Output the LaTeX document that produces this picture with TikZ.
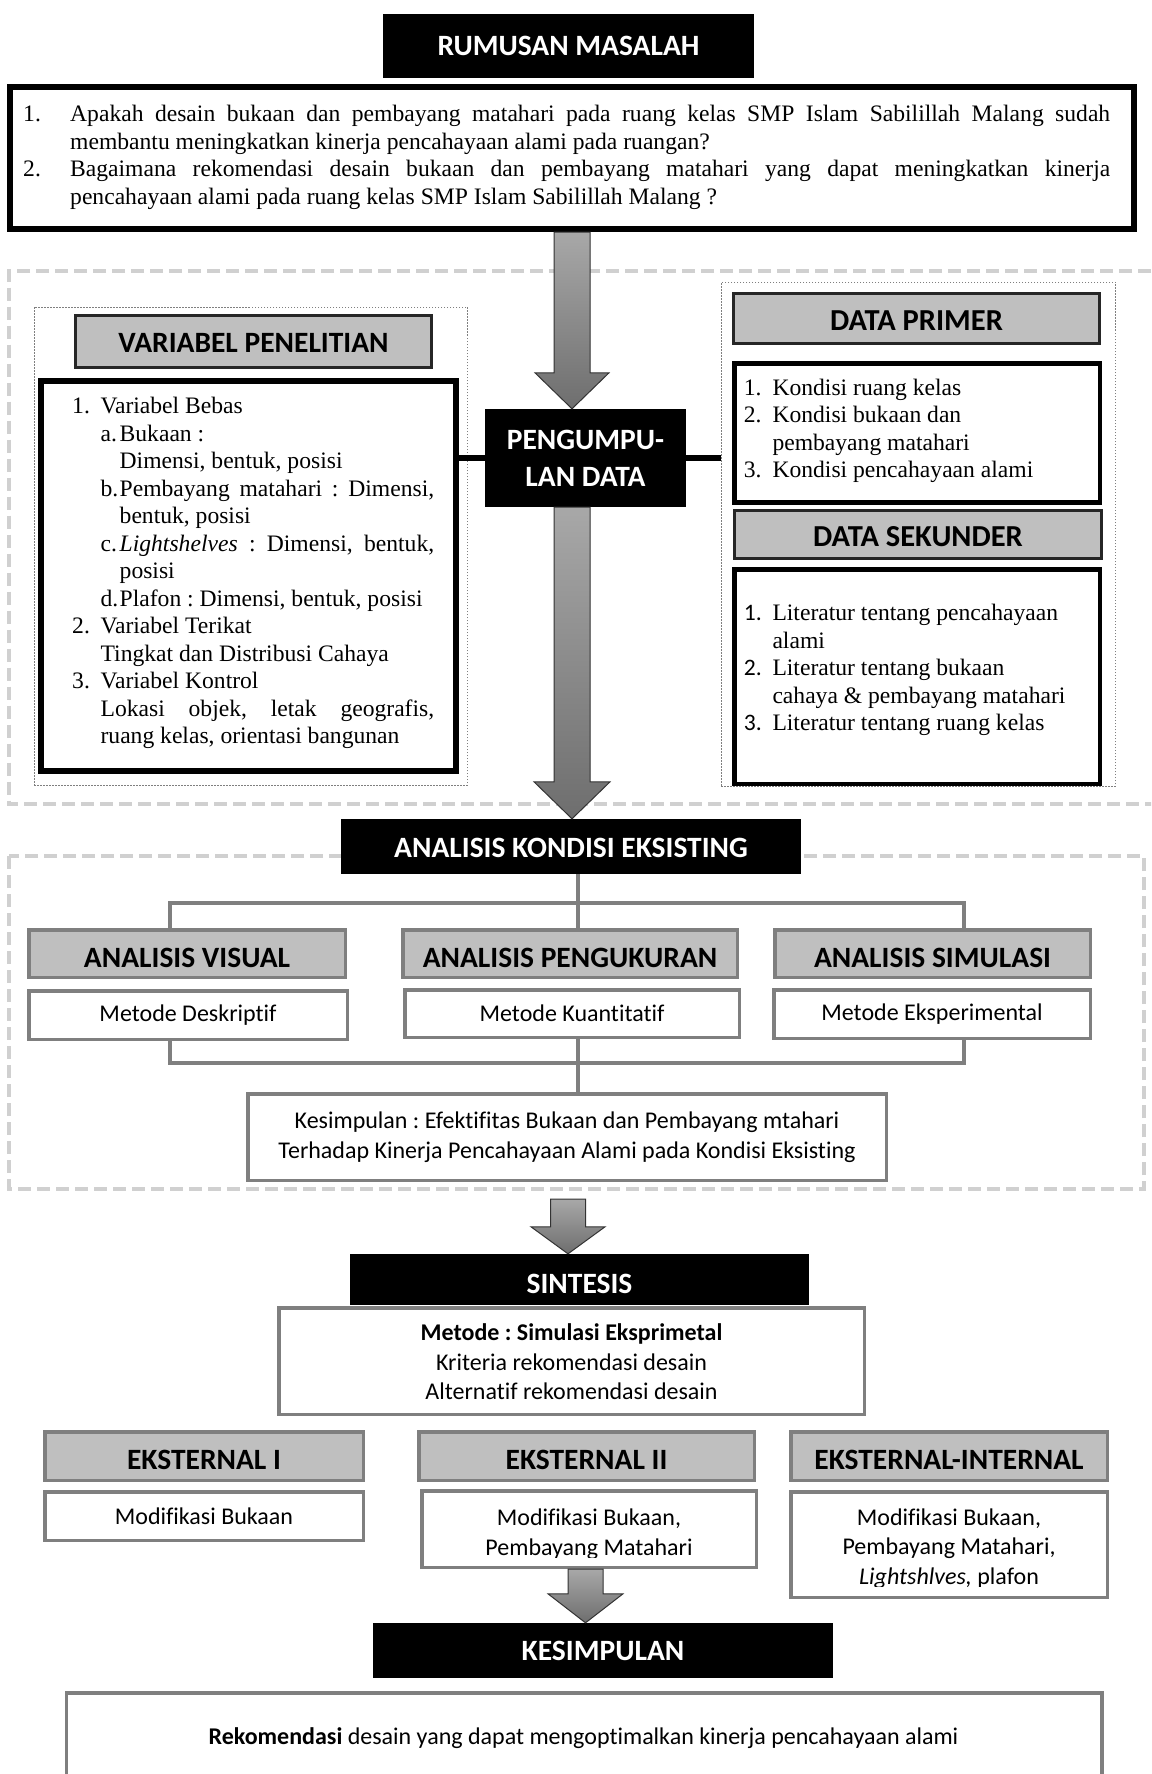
\documentclass[tikz,border=0pt]{standalone}
\usepackage{fontspec}
\setmainfont{Liberation Serif}[Ligatures={TeX,NoCommon}]
\newfontfamily\calfont{Carlito}[Ligatures={TeX,NoCommon}]
\usetikzlibrary{calc}
\AtBeginDocument{\frenchspacing}
\definecolor{hdrgray}{HTML}{BFBFBF}
\definecolor{bordgray}{HTML}{7F7F7F}
\definecolor{dashgray}{HTML}{D0D0D0}
\definecolor{arrtop}{HTML}{A8A8A8}
\definecolor{arrbot}{HTML}{6E6E6E}
\newcommand\jl[2]{\makebox[#1pt][s]{#2}}
\newcommand\lb[2]{\makebox[#1pt][l]{#2}}
\newcommand\sertext{\frenchspacing\fontsize{23.6}{27.5}\selectfont}
\newcommand\hdr{\frenchspacing\calfont\bfseries\fontsize{29.5}{34}\selectfont}
\newcommand\hdrdata{\frenchspacing\calfont\bfseries\fontsize{30.5}{35}\selectfont}
\newcommand\hdrtwo{\frenchspacing\calfont\bfseries\fontsize{29.5}{37}\selectfont}
\newcommand\caltext{\frenchspacing\calfont\fontsize{24}{29.5}\selectfont}
\newcommand\boxnode[7]{\node[#1,minimum width={(#5)-(#3)},minimum height={(#6)-(#4)},inner sep=0pt] (#2) at ({((#3)+(#5))/2},{((#4)+(#6))/2}) {#7};}
\newcommand\blockarrow[6]{%
  \path[blockarr] let \p1=(#1), \p2=(#2) in
  ({#3pt-#4pt},\y1) -- ({#3pt+#4pt},\y1) -- ({#3pt+#4pt},{\y2+#6pt}) -- ({#3pt+#5pt},{\y2+#6pt})
  -- (#3pt,\y2) -- ({#3pt-#5pt},{\y2+#6pt}) -- ({#3pt-#4pt},{\y2+#6pt}) -- cycle;}
\tikzset{
  blackhdr/.style={fill=black, text=white, font=\hdr},
  grayhdr/.style={fill=hdrgray, draw=black!85, line width=3pt, font=\hdrdata, text height=23pt, text depth=0pt},
  grayhdrb/.style={fill=hdrgray, draw=bordgray, line width=3.5pt, font=\hdr, text height=27pt, text depth=0pt},
  thickbox/.style={draw=black, line width=6pt},
  medbox/.style={draw=black, line width=4.5pt},
  graybox/.style={draw=bordgray, line width=3.5pt, font=\caltext, align=flush center},
  dashframe/.style={draw=dashgray, line width=4pt, dash pattern=on 13pt off 6pt},
  dotframe/.style={draw=bordgray, line width=1pt, dash pattern=on 1.5pt off 1.5pt},
  treeline/.style={draw=bordgray, line width=4pt},
  linkline/.style={draw=black, line width=6pt},
  textblock/.style={anchor=north west, inner sep=0pt, align=flush left},
  blockarr/.style={top color=arrtop, bottom color=arrbot, draw=black!80, line width=1pt},
}
\begin{document}
\begin{tikzpicture}[x=1pt,y=-1pt]
\useasboundingbox (0,0) rectangle (1151,1774);
\clip (0,0) rectangle (1151,1774);
\fill[white] (0,0) rectangle (1151,1774);

% dashed group frames
\draw[dashframe] (1170,271) -- (8.5,271) -- (8.5,804) -- (1170,804);
\draw[dashframe] (9,856) rectangle (1144,1189);

% ---------- Rumusan masalah
\boxnode{blackhdr}{rm}{383}{14}{754}{78}{RUMUSAN MASALAH}
\boxnode{thickbox}{q}{10}{87}{1134}{229}{}
\node[textblock, text width=1120pt, font=\sertext] (qt) at (23,102.45) {\strut\lb{47}{1.}\jl{1040}{Apakah desain bukaan dan pembayang matahari pada ruang kelas SMP Islam Sabilillah Malang sudah}\\
\hspace*{47pt}membantu meningkatkan kinerja pencahayaan alami pada ruangan?\\
\lb{47}{2.}\jl{1040}{Bagaimana rekomendasi desain bukaan dan pembayang matahari yang dapat meningkatkan kinerja}\\
\hspace*{47pt}pencahayaan alami pada ruang kelas SMP Islam Sabilillah Malang ?};

% ---------- Pengumpulan data section
\boxnode{dotframe}{lframe}{34}{307}{467}{785}{}
\boxnode{dotframe}{rframe}{721}{282}{1115}{786}{}
\boxnode{grayhdr,font=\hdr,text height=22.6pt}{vp}{75.5}{315.5}{431.5}{367.5}{VARIABEL PENELITIAN}
\boxnode{thickbox}{vl}{41}{381}{456}{771}{}
\node[textblock, text width=370pt, font=\sertext] (vt) at (72,394.25) {\strut\lb{28.4}{1.}Variabel Bebas\\
\hspace*{28.4pt}\lb{19.1}{a.}Bukaan :\\
\hspace*{47.5pt}Dimensi, bentuk, posisi\\
\hspace*{28.4pt}\lb{19.1}{b.}\jl{314.5}{Pembayang matahari : Dimensi,}\\
\hspace*{47.5pt}bentuk, posisi\\
\hspace*{28.4pt}\lb{19.1}{c.}\jl{314.5}{\textit{Lightshelves} : Dimensi, bentuk,}\\
\hspace*{47.5pt}posisi\\
\hspace*{28.4pt}\lb{19.1}{d.}Plafon : Dimensi, bentuk, posisi\\
\lb{28.4}{2.}Variabel Terikat\\
\hspace*{28.4pt}Tingkat dan Distribusi Cahaya\\
\lb{28.4}{3.}Variabel Kontrol\\
\hspace*{28.4pt}\jl{333.6}{Lokasi objek, letak geografis,}\\
\hspace*{28.4pt}ruang kelas, orientasi bangunan};

\boxnode{blackhdr,font=\hdrtwo,align=flush center}{peng}{485}{409}{686}{507}{PENGUMPU-\\LAN DATA}

\boxnode{grayhdr}{dp}{733.5}{293.5}{1099.5}{343.5}{DATA PRIMER}
\boxnode{medbox}{dpl}{734.25}{363.25}{1099.75}{502.25}{}
\node[textblock, text width=350pt, font=\sertext] (dpt) at (743.6,375.75) {\strut\lb{28.7}{1.}Kondisi ruang kelas\\
\lb{28.7}{2.}Kondisi bukaan dan\\
\hspace*{28.7pt}pembayang matahari\\
\lb{28.7}{3.}Kondisi pencahayaan alami};
\boxnode{grayhdr}{ds}{734.5}{510.5}{1101.5}{558.5}{DATA SEKUNDER}
\boxnode{medbox}{dsl}{734.25}{569.25}{1099.75}{783.75}{}
\node[textblock, text width=350pt, font=\sertext] (dst) at (743.6,601.05) {\strut\lb{28.7}{\calfont 1.}Literatur tentang pencahayaan\\
\hspace*{28.7pt}alami\\
\lb{28.7}{\calfont 2.}Literatur tentang bukaan\\
\hspace*{28.7pt}cahaya \& pembayang matahari\\
\lb{28.7}{\calfont 3.}Literatur tentang ruang kelas};

\draw[linkline] (peng.west) -- (peng.west -| vl.east);
\draw[linkline] (peng.east) -- (peng.east -| rframe.west);

% ---------- Analisis kondisi eksisting
\boxnode{blackhdr,text height=21.6pt,text depth=0pt}{ak}{341}{819}{801}{874}{ANALISIS KONDISI EKSISTING}
\boxnode{grayhdrb}{av}{28.75}{929.75}{345.25}{977.25}{ANALISIS VISUAL}
\boxnode{grayhdrb}{ap}{402.75}{929.75}{737.25}{977.25}{ANALISIS PENGUKURAN}
\boxnode{grayhdrb}{as}{774.75}{929.75}{1090.25}{977.25}{ANALISIS SIMULASI}
\boxnode{graybox}{md}{28.75}{990.75}{347.25}{1039.25}{Metode Deskriptif}
\boxnode{graybox}{mk}{404.75}{989.75}{739.25}{1037.25}{Metode Kuantitatif}
\boxnode{graybox}{me}{773.75}{989.75}{1090.25}{1038.25}{Metode Eksperimental}
\boxnode{graybox}{kes}{247.75}{1093.75}{886.25}{1180.25}{Kesimpulan : Efektifitas Bukaan dan Pembayang mtahari\\Terhadap Kinerja Pencahayaan Alami pada Kondisi Eksisting}

\coordinate (jl) at (170,903);
\coordinate (jm) at (578,903);
\coordinate (jr) at (964,903);
\coordinate (kl) at (170,1063);
\coordinate (km) at (578,1063);
\coordinate (kr) at (964,1063);
\draw[treeline] (jm |- ak.south) -- (jm |- ap.north);
\draw[treeline] (jl |- av.north) -- (jl) -- (jr) -- (jr |- as.north);
\draw[treeline] (kl |- md.south) -- (kl) -- (kr) -- (kr |- me.south);
\draw[treeline] (km |- mk.south) -- (km |- kes.north);

% ---------- Sintesis
\boxnode{blackhdr,text height=27.6pt,text depth=0pt}{sint}{350}{1254}{809}{1305}{SINTESIS}
\boxnode{graybox}{smet}{278.75}{1307.75}{864.25}{1414.25}{}
\node[anchor=north, inner sep=0pt, align=flush center, font=\caltext] (smett) at (571.5,1319.85) {\strut\textbf{Metode : Simulasi Eksprimetal}\\Kriteria rekomendasi desain\\Alternatif rekomendasi desain};
\boxnode{grayhdrb}{e1}{44.75}{1431.75}{363.25}{1480.25}{EKSTERNAL I}
\boxnode{grayhdrb}{e2}{418.75}{1431.75}{754.25}{1480.25}{EKSTERNAL II}
\boxnode{grayhdrb}{e3}{790.75}{1431.75}{1107.25}{1480.25}{EKSTERNAL-INTERNAL}
\boxnode{graybox}{e1m}{44.75}{1491.75}{363.25}{1540.25}{Modifikasi Bukaan}
\boxnode{graybox}{e2m}{421.75}{1490.75}{756.25}{1567.25}{}
\boxnode{graybox}{e3m}{790.75}{1491.75}{1107.25}{1597.25}{}
\begin{scope}
\clip (421,1490) rectangle (757,1557);
\node[anchor=north, inner sep=0pt, align=flush center, font={\calfont\fontsize{24}{30}\selectfont}] (e2t) at (589,1504) {\strut Modifikasi Bukaan,\\Pembayang Matahari};
\end{scope}
\begin{scope}
\clip (790,1491) rectangle (1108,1586.5);
\node[anchor=north, inner sep=0pt, align=flush center, font={\calfont\fontsize{24}{29.7}\selectfont}] (e3t) at (949,1504.2) {\strut Modifikasi Bukaan,\\Pembayang Matahari,\\\textit{Lightshlves,} plafon};
\end{scope}

% ---------- Kesimpulan
\boxnode{blackhdr}{kesim}{373}{1623}{833}{1678}{KESIMPULAN}
\boxnode{graybox}{rek}{66.25}{1692.75}{1101.75}{1800}{}
\node[anchor=base, inner sep=0pt, font=\caltext] (rekt) at (583.5,1744) {{\bfseries Rekomendasi} desain yang dapat mengoptimalkan kinerja pencahayaan alami};

% ---------- block arrows
\coordinate (a3s) at (568,1199);
\blockarrow{q.south}{peng.north}{572}{18}{37}{36}
\blockarrow{peng.south}{ak.north}{572}{18}{38}{37}
\blockarrow{a3s}{sint.north}{568}{17.5}{37}{27}
\blockarrow{e2m.south}{kesim.north}{585.5}{17.5}{37.5}{29}
\end{tikzpicture}
\end{document}
